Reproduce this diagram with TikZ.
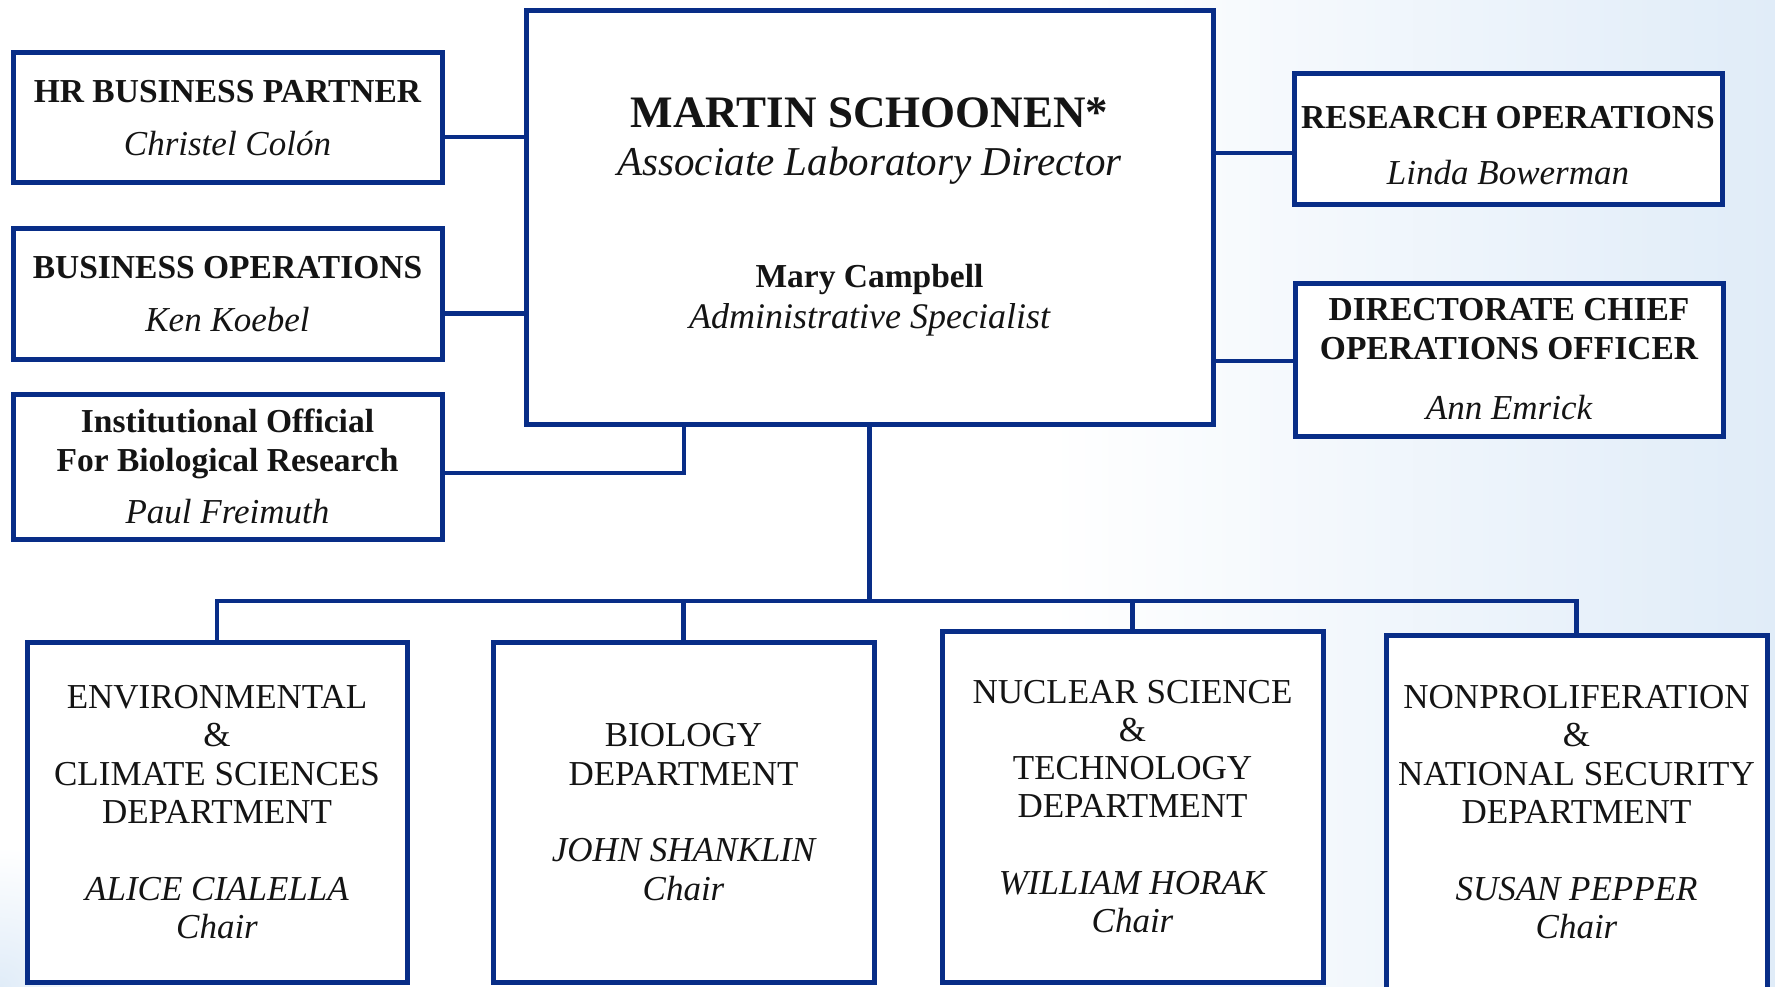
\documentclass[tikz,border=0pt]{standalone}
\usepackage{fontspec}
\setmainfont{Liberation Serif}
\definecolor{lblue}{RGB}{8,45,135}
\definecolor{bgblue}{RGB}{224,236,248}
\definecolor{ink}{RGB}{20,20,20}
\tikzset{
  orgbox/.style={draw=lblue, line width=5pt, fill=white, rectangle, inner sep=0pt, outer sep=0pt, align=center, text=ink},
  conn/.style={draw=lblue, line width=4.5pt},
  head/.style={font=\fontsize{33.5}{38.5}\selectfont},
  dept/.style={font=\fontsize{35}{38.3}\selectfont},
  mtext/.style={anchor=base, text=ink, inner sep=0pt},
}
\newcommand{\pname}{\mdseries\itshape\fontsize{35}{38.5}\selectfont}
\begin{document}
\begin{tikzpicture}[x=1pt,y=-1pt]
\useasboundingbox (0,0) rectangle (1775,987);
\clip (0,0) rectangle (1775,987);
\fill[white] (0,0) rectangle (1775,987);
\shade[left color=white, right color=bgblue] (1050,0) rectangle (1775,987);
\shade[inner color=bgblue, outer color=white] (0,987) circle (140);

% left boxes
\node[orgbox, head, minimum width=429pt, minimum height=130pt] (hr) at (227.5,118)
  {\bfseries HR BUSINESS PARTNER\\[14pt]\pname Christel Colón};
\node[orgbox, head, minimum width=429pt, minimum height=130pt] (bo) at (227.5,294)
  {\bfseries BUSINESS OPERATIONS\\[14pt]\pname Ken Koebel};
\node[orgbox, head, minimum width=429pt, minimum height=145pt] (inst) at (227.5,466.5)
  {\bfseries Institutional Official\\\bfseries For Biological Research\\[14pt]\pname Paul Freimuth};

% main box
\node[orgbox, minimum width=687pt, minimum height=413pt] (main) at (869.5,217.5) {};
\node[mtext, font=\fontsize{45}{50}\selectfont\bfseries] (mt1) at (869.5,128) {MARTIN SCHOONEN*};
\node[mtext, font=\fontsize{41}{46}\selectfont\itshape] (mt2) at (869.5,176) {Associate Laboratory Director};
\node[mtext, font=\fontsize{33.5}{38}\selectfont\bfseries] (mt3) at (869.5,287) {Mary Campbell};
\node[mtext, font=\fontsize{36}{40}\selectfont\itshape] (mt4) at (869.5,328) {Administrative Specialist};

% right boxes
\node[orgbox, head, minimum width=428pt, minimum height=131pt] (ro) at (1508,139.5)
  {\rule{0pt}{34pt}\bfseries RESEARCH OPERATIONS\\[18pt]\pname Linda Bowerman};
\node[orgbox, head, minimum width=428pt, minimum height=153pt] (dcoo) at (1509,359.5)
  {\bfseries DIRECTORATE CHIEF\\\bfseries OPERATIONS OFFICER\\[22pt]\pname Ann Emrick};

% departments
\node[orgbox, dept, minimum width=380pt, minimum height=340pt] (env) at (217,812)
  {ENVIRONMENTAL\\\&\\CLIMATE SCIENCES\\DEPARTMENT\\[38.3pt]\itshape ALICE CIALELLA\\\itshape Chair};
\node[orgbox, dept, minimum width=381pt, minimum height=340pt] (bio) at (683.5,812)
  {BIOLOGY\\DEPARTMENT\\[38.3pt]\itshape JOHN SHANKLIN\\\itshape Chair};
\node[orgbox, dept, minimum width=381pt, minimum height=351pt] (nuc) at (1132.5,806.5)
  {NUCLEAR SCIENCE\\\&\\TECHNOLOGY\\DEPARTMENT\\[38.3pt]\itshape WILLIAM HORAK\\\itshape Chair};
\node[orgbox, dept, minimum width=381pt, minimum height=354pt] (nonpro) at (1576.5,812)
  {NONPROLIFERATION\\\&\\NATIONAL SECURITY\\DEPARTMENT\\[38.3pt]\itshape SUSAN PEPPER\\\itshape Chair};

% connectors
\draw[conn] ([yshift=-19pt]hr.east) -- ([yshift=-19pt]hr.east -| main.west);
\draw[conn] ([yshift=-19.5pt]bo.east) -- ([yshift=-19.5pt]bo.east -| main.west);
\draw[conn] ([yshift=-6.5pt]inst.east) -| ([xshift=-185.5pt]main.south);
\draw[conn] ([yshift=-13.5pt]ro.west) -- ([yshift=-13.5pt]ro.west -| main.east);
\draw[conn] ([yshift=-1.5pt]dcoo.west) -- ([yshift=-1.5pt]dcoo.west -| main.east);
\coordinate (bus) at (869.5,601);
\draw[conn] (main.south) -- (bus);
\draw[conn] (env.north) |- (bus);
\draw[conn] (nonpro.north) |- (bus);
\draw[conn] (bio.north) -- (bio.north |- bus);
\draw[conn] (nuc.north) -- (nuc.north |- bus);
\end{tikzpicture}
\end{document}
